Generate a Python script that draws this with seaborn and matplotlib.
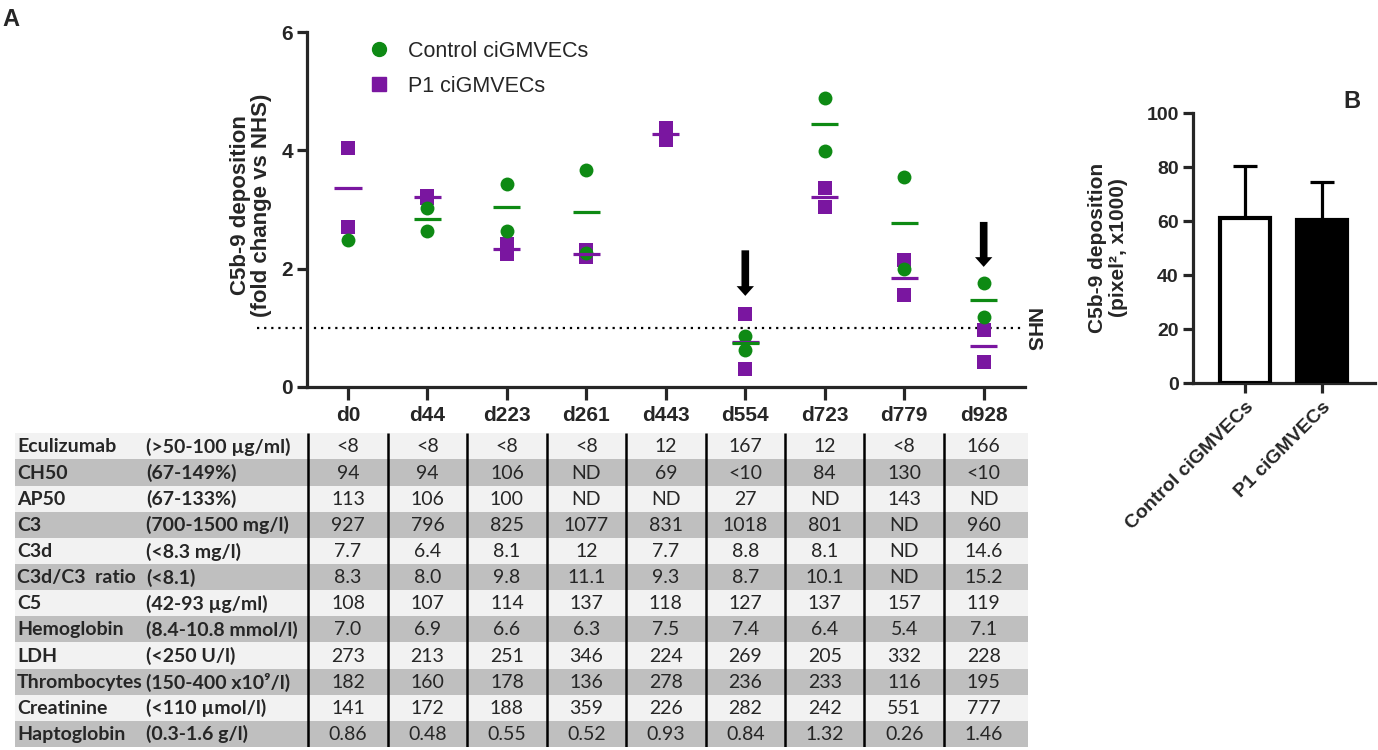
import numpy as np
import pandas as pd
import matplotlib
matplotlib.use("Agg")
import matplotlib.pyplot as plt
from matplotlib.lines import Line2D
import seaborn as sns

# ---------------- data ----------------
days = ['d0', 'd44', 'd223', 'd261', 'd443', 'd554', 'd723', 'd779', 'd928']

control_days = ['d0', 'd44', 'd44', 'd223', 'd223', 'd261', 'd261', 'd554', 'd554',
                'd723', 'd723', 'd779', 'd779', 'd928', 'd928']
control_vals = [2.48, 3.03, 2.64, 3.43, 2.64, 3.67, 2.26, 0.86, 0.63,
                4.89, 3.99, 3.55, 2.00, 1.75, 1.18]

p1_days = ['d0', 'd0', 'd44', 'd44', 'd223', 'd223', 'd261', 'd261', 'd443', 'd443',
           'd554', 'd554', 'd723', 'd723', 'd779', 'd779', 'd928', 'd928']
p1_vals = [4.04, 2.70, 3.22, 3.19, 2.42, 2.24, 2.31, 2.19, 4.37, 4.18,
           1.23, 0.30, 3.36, 3.05, 2.15, 1.55, 0.96, 0.42]

arrow_days = ['d554', 'd928']
arrow_top = [2.31, 2.79]
arrow_tip = [1.54, 2.03]

row_names = ['Eculizumab', 'CH50', 'AP50', 'C3', 'C3d', 'C3d/C3  ratio', 'C5',
             'Hemoglobin', 'LDH', 'Thrombocytes', 'Creatinine', 'Haptoglobin']
row_ranges = ['(>50-100 µg/ml)', '(67-149%)', '(67-133%)', '(700-1500 mg/l)',
              '(<8.3 mg/l)', '(<8.1)', '(42-93 µg/ml)', '(8.4-10.8 mmol/l)',
              '(<250 U/l)', '(150-400 x10⁹/l)', '(<110 µmol/l)', '(0.3-1.6 g/l)']
eculizumab = ['<8', '<8', '<8', '<8', '12', '167', '12', '<8', '166']
ch50 = ['94', '94', '106', 'ND', '69', '<10', '84', '130', '<10']
ap50 = ['113', '106', '100', 'ND', 'ND', '27', 'ND', '143', 'ND']
c3 = ['927', '796', '825', '1077', '831', '1018', '801', 'ND', '960']
c3d = ['7.7', '6.4', '8.1', '12', '7.7', '8.8', '8.1', 'ND', '14.6']
c3d_c3_ratio = ['8.3', '8.0', '9.8', '11.1', '9.3', '8.7', '10.1', 'ND', '15.2']
c5 = ['108', '107', '114', '137', '118', '127', '137', '157', '119']
hemoglobin = ['7.0', '6.9', '6.6', '6.3', '7.5', '7.4', '6.4', '5.4', '7.1']
ldh = ['273', '213', '251', '346', '224', '269', '205', '332', '228']
thrombocytes = ['182', '160', '178', '136', '278', '236', '233', '116', '195']
creatinine = ['141', '172', '188', '359', '226', '282', '242', '551', '777']
haptoglobin = ['0.86', '0.48', '0.55', '0.52', '0.93', '0.84', '1.32', '0.26', '1.46']
table_rows = [eculizumab, ch50, ap50, c3, c3d, c3d_c3_ratio, c5, hemoglobin,
              ldh, thrombocytes, creatinine, haptoglobin]

b_groups = ['Control ciGMVECs', 'P1 ciGMVECs']
b_means = [61.3, 60.5]
b_sd = [19.2, 14.2]

# ---------------- style ----------------
sns.set_style('ticks')
plt.rcParams['font.family'] = ['Liberation Sans', 'DejaVu Sans']
GREEN = '#0e8a14'
PURPLE = '#7a16a0'
W, H = 1378, 750
fig = plt.figure(figsize=(W / 100, H / 100), dpi=100)

def fx(px):
    return px / W

def fy(py):
    return 1 - py / H

# category geometry (pixels)
X0, STEP = 348.0, 79.46

# ---------------- panel A ----------------
axA = fig.add_axes([fx(307), fy(387), fx(1025 - 307), (387 - 32) / H])
df_c = pd.DataFrame({'day': control_days, 'val': control_vals})
df_p = pd.DataFrame({'day': p1_days, 'val': p1_vals})

sns.stripplot(data=df_p, x='day', y='val', order=days, jitter=False, marker='s',
              color=PURPLE, size=9.5, linewidth=0, ax=axA, zorder=3)
sns.stripplot(data=df_c, x='day', y='val', order=days, jitter=False, marker='o',
              color=GREEN, size=10, linewidth=0, ax=axA, zorder=4)

pos = {d: i for i, d in enumerate(days)}
for df, col in ((df_p, PURPLE), (df_c, GREEN)):
    g = df.groupby('day')['val']
    m, n = g.mean(), g.count()
    for d, v in m.items():
        if n[d] >= 2:
            axA.hlines(v, pos[d] - 0.17, pos[d] + 0.17, color=col, lw=2.3, zorder=5)

axA.axhline(1, color='black', ls=(0, (1, 2.2)), lw=1.6, xmin=-0.07, xmax=1.0,
            clip_on=False, zorder=1)
for d, t, tip in zip(arrow_days, arrow_top, arrow_tip):
    axA.annotate('', xy=(pos[d], tip), xytext=(pos[d], t),
                 arrowprops=dict(arrowstyle='simple,head_width=1.25,head_length=0.7,tail_width=0.55',
                                 mutation_scale=10, color='black', lw=0, shrinkA=0, shrinkB=0),
                 zorder=6)

axA.set_xlim(-0.516, 8.52)
axA.set_ylim(0, 6)
axA.set_yticks([0, 2, 4, 6])
axA.set_xlabel('')
axA.set_ylabel('')
for s in ('top', 'right'):
    axA.spines[s].set_visible(False)
for s in ('left', 'bottom'):
    axA.spines[s].set_linewidth(2.3)
axA.tick_params(axis='y', length=7, width=2.3, labelsize=15, pad=3)
axA.tick_params(axis='x', length=9, width=2.3, labelsize=15, pad=5)
for lab in axA.get_xticklabels() + axA.get_yticklabels():
    lab.set_fontweight('bold')

fig.text(fx(251), fy(205), 'C5b-9 deposition\n(fold change vs NHS)', rotation=90,
         ha='center', va='center', fontsize=16, fontweight='bold', linespacing=1.05)
fig.text(fx(1032), fy(330), 'NHS', rotation=-90, ha='center', va='center',
         fontsize=15, fontweight='bold')

handles = [Line2D([], [], marker='o', ls='', color=GREEN, markersize=10),
           Line2D([], [], marker='s', ls='', color=PURPLE, markersize=9.5)]
axA.legend(handles, ['Control ciGMVECs', 'P1 ciGMVECs'], loc='upper left',
           bbox_to_anchor=(fx(355), fy(30)), bbox_transform=fig.transFigure,
           frameon=False, fontsize=15.5, labelspacing=0.65, handletextpad=0.75,
           borderpad=0, handlelength=1.2)

fig.text(fx(2), fy(20), 'A', fontsize=17, fontweight='bold', ha='left', va='center')

# ---------------- table ----------------
T_L, T_R, T_T, T_B = 15, 1028, 433.3, 747
axT = fig.add_axes([fx(T_L), fy(T_B), fx(T_R - T_L), (T_B - T_T) / H])
axT.set_xlim((T_L - X0) / STEP, (T_R - X0) / STEP)
axT.set_ylim(len(row_names), 0)
axT.axis('off')
tfont = ['Lato', 'DejaVu Sans']
for r, (name, rng, vals) in enumerate(zip(row_names, row_ranges, table_rows)):
    axT.axhspan(r, r + 1, color='#f2f2f2' if r % 2 == 0 else '#bfbfbf', lw=0, zorder=0)
    axT.text((17 - X0) / STEP, r + 0.52, name, ha='left', va='center', fontsize=14,
             fontweight='bold', family=tfont)
    axT.text((146 - X0) / STEP, r + 0.52, rng, ha='left', va='center', fontsize=14,
             fontweight='bold', family=tfont)
    for i, v in enumerate(vals):
        axT.text(i, r + 0.52, v, ha='center', va='center', fontsize=14, family=tfont)
for k in range(len(days)):
    axT.vlines(k - 0.5, 0, len(row_names), color='black', lw=1.8, zorder=2)

# ---------------- panel B ----------------
axB = fig.add_axes([fx(1192.7), fy(383.3), fx(1375 - 1192.7), (383.3 - 113.3) / H])
dfb = pd.DataFrame({'group': b_groups, 'mean': b_means})
sns.barplot(data=dfb, x='group', y='mean', hue='group', palette=['white', 'black'],
            edgecolor='black', linewidth=3, width=0.65, legend=False, ax=axB, zorder=3)
axB.errorbar(range(len(b_groups)), b_means, yerr=[[0] * len(b_sd), b_sd], fmt='none',
             ecolor='black', elinewidth=2.3, capsize=8.5, capthick=2.3, zorder=2)
axB.set_xlim(-0.68, 1.69)
axB.set_ylim(0, 100)
axB.set_yticks([0, 20, 40, 60, 80, 100])
axB.set_xlabel('')
axB.set_ylabel('')
for s in ('top', 'right'):
    axB.spines[s].set_visible(False)
for s in ('left', 'bottom'):
    axB.spines[s].set_linewidth(2.3)
axB.tick_params(axis='y', length=7, width=2.3, labelsize=14, pad=3)
axB.tick_params(axis='x', length=7, width=2.3, labelsize=14, pad=4)
for lab in axB.get_yticklabels():
    lab.set_fontweight('bold')
for lab in axB.get_xticklabels():
    lab.set_fontweight('bold')
    lab.set_rotation(45)
    lab.set_ha('right')
    lab.set_rotation_mode('anchor')
fig.text(fx(1108), fy(248), 'C5b-9 deposition\n(pixel², x1000)', rotation=90,
         ha='center', va='center', fontsize=15, fontweight='bold', linespacing=1.1)
fig.text(fx(1343), fy(102), 'B', fontsize=17, fontweight='bold', ha='left', va='center')

fig.savefig('out.png', dpi=100)
